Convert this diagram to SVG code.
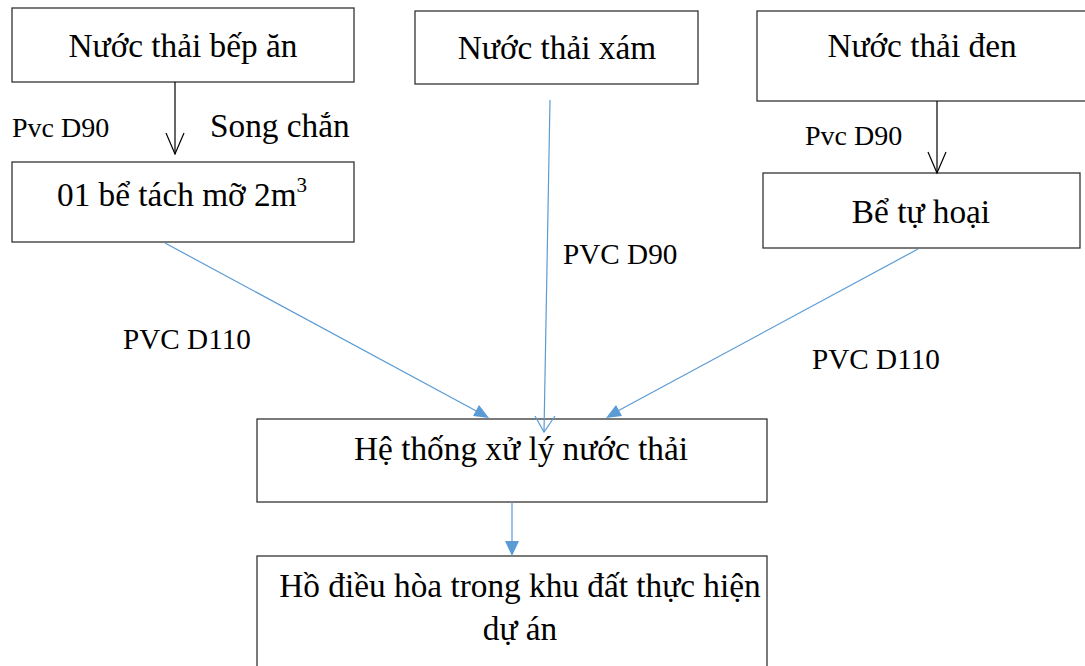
<svg xmlns="http://www.w3.org/2000/svg" width="1085" height="666" viewBox="0 0 1085 666">
  <style>
    .box { fill: #ffffff; stroke: #333333; stroke-width: 1.3; }
    .t { font-family: "Liberation Serif", "Times New Roman", serif; font-size: 33.3px; fill: #000000; }
    .lbl { font-family: "Liberation Serif", "Times New Roman", serif; font-size: 28px; fill: #000000; }
    .lbl2 { font-family: "Liberation Serif", "Times New Roman", serif; font-size: 29.2px; fill: #000000; }
    .blk { stroke: #000000; stroke-width: 1.2; fill: none; }
    .blu { stroke: #5B9BD5; stroke-width: 1.2; fill: none; }
    .head { fill: #5B9BD5; stroke: none; }
  </style>
  <rect width="1085" height="666" fill="#ffffff"/>

  <!-- nodes -->
  <g id="nuoc-thai-bep-an">
    <rect class="box" x="12" y="8" width="342" height="74"/>
    <text class="t" x="183" y="57" text-anchor="middle">Nước thải bếp ăn</text>
  </g>
  <g id="nuoc-thai-xam">
    <rect class="box" x="415" y="11" width="283" height="73"/>
    <text class="t" x="557" y="59" text-anchor="middle">Nước thải xám</text>
  </g>
  <g id="nuoc-thai-den">
    <rect class="box" x="757" y="11" width="330" height="90"/>
    <text class="t" x="922" y="57" text-anchor="middle">Nước thải đen</text>
  </g>
  <g id="be-tach-mo">
    <rect class="box" x="12" y="162" width="342" height="80"/>
    <text class="t" x="57" y="206">01 bể tách mỡ 2m<tspan font-size="21" dy="-14">3</tspan></text>
  </g>
  <g id="be-tu-hoai">
    <rect class="box" x="763" y="173" width="317" height="75"/>
    <text class="t" x="921" y="223" text-anchor="middle">Bể tự hoại</text>
  </g>
  <g id="he-thong-xu-ly">
    <rect class="box" x="257" y="419" width="510" height="83"/>
    <text class="t" x="521" y="460" text-anchor="middle">Hệ thống xử lý nước thải</text>
  </g>
  <g id="ho-dieu-hoa">
    <rect class="box" x="257" y="556" width="510" height="130"/>
    <text class="t" x="520" y="597" text-anchor="middle">Hồ điều hòa trong khu đất thực hiện</text>
    <text class="t" x="520" y="640" text-anchor="middle">dự án</text>
  </g>

  <!-- connectors -->
  <g id="connectors">
    <!-- kitchen waste to grease trap -->
    <line class="blk" x1="175" y1="82" x2="175" y2="154"/>
    <polyline class="blk" points="166,133 175,154 184,133"/>
    <!-- black water to septic tank -->
    <line class="blk" x1="937" y1="101" x2="937" y2="173"/>
    <polyline class="blk" points="928,152 937,173 946,152"/>
    <!-- grease trap to treatment system -->
    <line class="blu" x1="165" y1="243" x2="480" y2="413"/>
    <polygon class="head" points="479,405 473,416 489,418"/>
    <!-- grey water to treatment system -->
    <line class="blu" x1="550" y1="100" x2="544" y2="432"/>
    <polyline class="blu" points="535,416 544,432 555,416"/>
    <!-- septic tank to treatment system -->
    <line class="blu" x1="918" y1="249" x2="614" y2="413"/>
    <polygon class="head" points="616,405 622,416 606,418"/>
    <!-- treatment system to pond -->
    <line class="blu" x1="512" y1="502" x2="512" y2="545"/>
    <polygon class="head" points="505,541 519,541 512,556"/>
  </g>

  <!-- pipe labels -->
  <g id="labels">
    <text class="lbl" x="12" y="137">Pvc D90</text>
    <text class="t" x="210" y="137">Song chắn</text>
    <text class="lbl" x="805" y="145">Pvc D90</text>
    <text class="lbl2" x="563" y="264">PVC D90</text>
    <text class="lbl2" x="123" y="349">PVC D110</text>
    <text class="lbl2" x="812" y="369">PVC D110</text>
  </g>
</svg>
